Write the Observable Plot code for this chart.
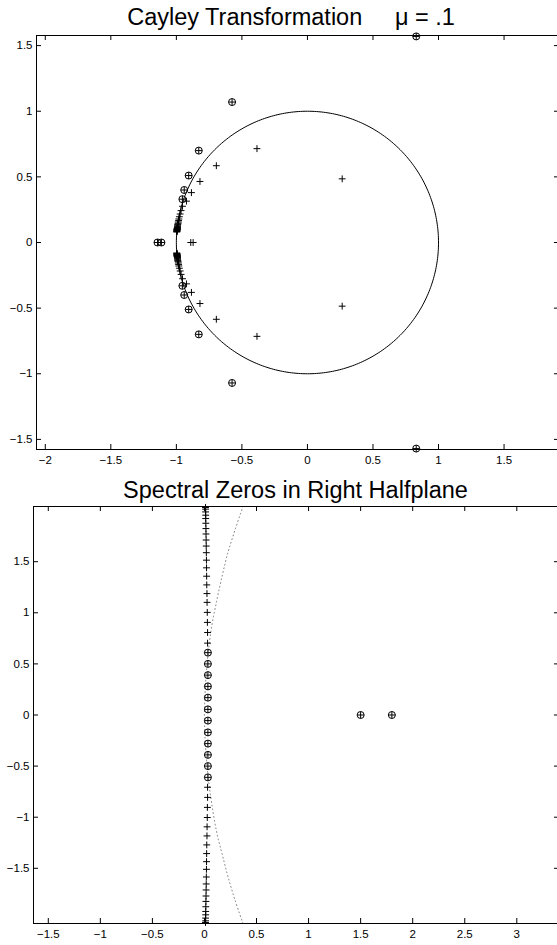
<!DOCTYPE html>
<html><head><meta charset="utf-8">
<script src="https://cdn.jsdelivr.net/npm/d3@7"></script>
<script src="https://cdn.jsdelivr.net/npm/@observablehq/plot@0.6"></script>
<style>
html,body{margin:0;padding:0;background:#fff;overflow:hidden;width:557px;height:945px;}
#c svg{display:block}
</style></head><body><div id="c"></div>
<script>
// ---------- Data ----------
const topTitle = "Cayley Transformation\u00a0\u00a0\u00a0\u00a0\u00a0\u03bc = .1";
const botTitle = "Spectral Zeros in Right Halfplane";

const xTicksTop = [-2, -1.5, -1, -0.5, 0, 0.5, 1, 1.5];
const yTicksTop = [-1.5, -1, -0.5, 0, 0.5, 1, 1.5];
const xTicksBot = [-1.5, -1, -0.5, 0, 0.5, 1, 1.5, 2, 2.5, 3];
const yTicksBot = [-1.5, -1, -0.5, 0, 0.5, 1, 1.5];

const circleRadius = 1;

// Top panel: "+" only points
const topPlusX = [0.265, 0.265, -0.385, -0.385, -0.695, -0.695, -0.82, -0.82, -0.885, -0.885, -0.923, -0.923, -0.872, -0.89,
  -0.953, -0.964, -0.971, -0.977, -0.981, -0.983, -0.985, -0.987, -0.989, -0.990, -0.991, -0.991, -0.992, -0.992, -0.993, -0.993, -0.994, -0.994, -0.994, -0.995, -0.995, -0.995, -0.996, -0.996, -0.996, -0.997,
  -0.953, -0.964, -0.971, -0.977, -0.981, -0.983, -0.985, -0.987, -0.989, -0.990, -0.991, -0.991, -0.992, -0.992, -0.993, -0.993, -0.994, -0.994, -0.994, -0.995, -0.995, -0.995, -0.996, -0.996, -0.996, -0.997];
const topPlusY = [0.485, -0.485, 0.715, -0.715, 0.585, -0.585, 0.465, -0.465, 0.38, -0.38, 0.315, -0.315, 0, 0,
  0.276, 0.243, 0.217, 0.196, 0.179, 0.167, 0.156, 0.146, 0.138, 0.132, 0.125, 0.120, 0.116, 0.112, 0.109, 0.106, 0.104, 0.102, 0.100, 0.098, 0.095, 0.092, 0.089, 0.086, 0.083, 0.080,
  -0.276, -0.243, -0.217, -0.196, -0.179, -0.167, -0.156, -0.146, -0.138, -0.132, -0.125, -0.120, -0.116, -0.112, -0.109, -0.106, -0.104, -0.102, -0.100, -0.098, -0.095, -0.092, -0.089, -0.086, -0.083, -0.080];
// Top panel: circled-plus points
const topRingX = [0.83, 0.83, -0.575, -0.575, -0.829, -0.829, -0.906, -0.906, -0.94, -0.94, -0.954, -0.954, -1.144, -1.114];
const topRingY = [1.57, -1.57, 1.07, -1.07, 0.70, -0.70, 0.51, -0.51, 0.40, -0.40, 0.33, -0.33, 0, 0];

// Bottom panel: "+" only points
const botPlusX = [0.03, 0.03, 0.028, 0.027, 0.025, 0.024, 0.022, 0.021, 0.02, 0.019, 0.018, 0.017, 0.016, 0.015, 0.014, 0.013, 0.012, 0.012, 0.011, 0.011, 0.01,
  0.03, 0.03, 0.028, 0.027, 0.025, 0.024, 0.022, 0.021, 0.02, 0.019, 0.018, 0.017, 0.016, 0.015, 0.014, 0.013, 0.012, 0.012, 0.011, 0.011, 0.01];
const botPlusY = [0.703, 0.807, 0.906, 1.004, 1.102, 1.188, 1.273, 1.358, 1.440, 1.515, 1.588, 1.653, 1.712, 1.771, 1.824, 1.876, 1.922, 1.955, 1.987, 2.014, 2.03,
  -0.707, -0.806, -0.904, -1.003, -1.094, -1.183, -1.271, -1.356, -1.435, -1.510, -1.585, -1.653, -1.712, -1.771, -1.824, -1.876, -1.922, -1.955, -1.987, -2.014, -2.03];
// Bottom panel: circled-plus points
const botRingX = [0.033, 0.033, 0.033, 0.033, 0.033, 0.033, 0.033, 0.033, 0.033, 0.033, 0.033, 0.033, 1.5, 1.8];
const botRingY = [0.61, 0.50, 0.39, 0.28, 0.17, 0.055, -0.055, -0.17, -0.28, -0.39, -0.50, -0.61, 0, 0];
// Bottom panel: dotted curve
const curveX = [0.37, 0.29, 0.22, 0.17, 0.12, 0.07, 0.035, 0.01, 0, 0.01, 0.035, 0.07, 0.12, 0.17, 0.22, 0.29, 0.37];
const curveY = [-2.04, -1.8, -1.56, -1.36, -1.16, -0.87, -0.6, -0.3, 0, 0.3, 0.6, 0.87, 1.13, 1.36, 1.57, 1.8, 2.04];

// ---------- Build tables ----------
const zip = (X, Y) => X.map((x, i) => ({x, y: Y[i]}));
const topPlus = zip(topPlusX, topPlusY);
const topRing = zip(topRingX, topRingY);
const botPlus = zip(botPlusX, botPlusY);
const botRing = zip(botRingX, botRingY);
const curve = zip(curveX, curveY);
const unitCircle = d3.range(0, 361).map(a => ({
  x: circleRadius * Math.cos(a * Math.PI / 180),
  y: circleRadius * Math.sin(a * Math.PI / 180)
}));

const FONT = "'Liberation Sans', Arial, Helvetica, sans-serif";
const fmt = d => (d < 0 ? "\u2212" : "") + Math.abs(d);

function ringMarks(data) {
  return [
    Plot.dot(data, {x: "x", y: "y", symbol: "circle", r: 3.5, stroke: "black", fill: "none", strokeWidth: 1}),
    Plot.dot(data, {x: "x", y: "y", symbol: "plus", r: 2.35, stroke: "black", strokeWidth: 1})
  ];
}
function plusMarks(data) {
  return [Plot.dot(data, {x: "x", y: "y", symbol: "plus", r: 2.35, stroke: "black", strokeWidth: 1})];
}

function panel({width, height, mt, mb, ml, mr, xd, yd, xt, yt, title, titleDx, titleDy, layers}) {
  const fw = width - ml - mr, fh = height - mt - mb;
  return Plot.plot({
    width, height, marginTop: mt, marginBottom: mb, marginLeft: ml, marginRight: mr,
    x: {domain: xd, label: null},
    y: {domain: yd, label: null},
    style: {fontFamily: FONT, fontSize: "11.5px", color: "black", background: "white", overflow: "visible"},
    marks: [
      ...layers,
      Plot.frame({stroke: "black", strokeWidth: 1}),
      Plot.tickX(xt, {insetTop: fh - 5, stroke: "black"}),
      Plot.tickX(xt, {insetBottom: fh - 5, stroke: "black"}),
      Plot.tickY(yt, {insetRight: fw - 5, stroke: "black"}),
      Plot.tickY(yt, {insetLeft: fw - 5, stroke: "black"}),
      Plot.axisX(xt, {anchor: "bottom", tickSize: 0, tickPadding: 6, label: null, tickFormat: fmt, fontSize: 11.5}),
      Plot.axisY(yt, {anchor: "left", tickSize: 0, tickPadding: 4, label: null, tickFormat: fmt, fontSize: 11.5}),
      Plot.text([title], {text: d => d, frameAnchor: "top", dx: titleDx, dy: titleDy, fontSize: 23.5, lineAnchor: "bottom", fill: "black"})
    ]
  });
}

const c = document.getElementById("c");
c.appendChild(panel({
  width: 557, height: 472, mt: 35, mb: 23, ml: 36, mr: -2,
  xd: [-2.067, 1.923], yd: [-1.577, 1.577],
  xt: xTicksTop, yt: yTicksTop, title: topTitle, titleDx: -7, titleDy: -11,
  layers: [
    Plot.line(unitCircle, {x: "x", y: "y", stroke: "black", strokeWidth: 1}),
    ...plusMarks(topPlus),
    ...ringMarks(topRing)
  ]
}));
c.appendChild(panel({
  width: 557, height: 473, mt: 34, mb: 22, ml: 33, mr: -2,
  xd: [-1.642, 3.41], yd: [-2.04, 2.04],
  xt: xTicksBot, yt: yTicksBot, title: botTitle, titleDx: -1, titleDy: -9,
  layers: [
    Plot.line(curve, {x: "x", y: "y", stroke: "#777", strokeWidth: 1, strokeDasharray: "0.8,3", curve: "catmull-rom", clip: true}),
    ...plusMarks(botPlus),
    ...ringMarks(botRing)
  ]
}));
</script>
</body></html>
